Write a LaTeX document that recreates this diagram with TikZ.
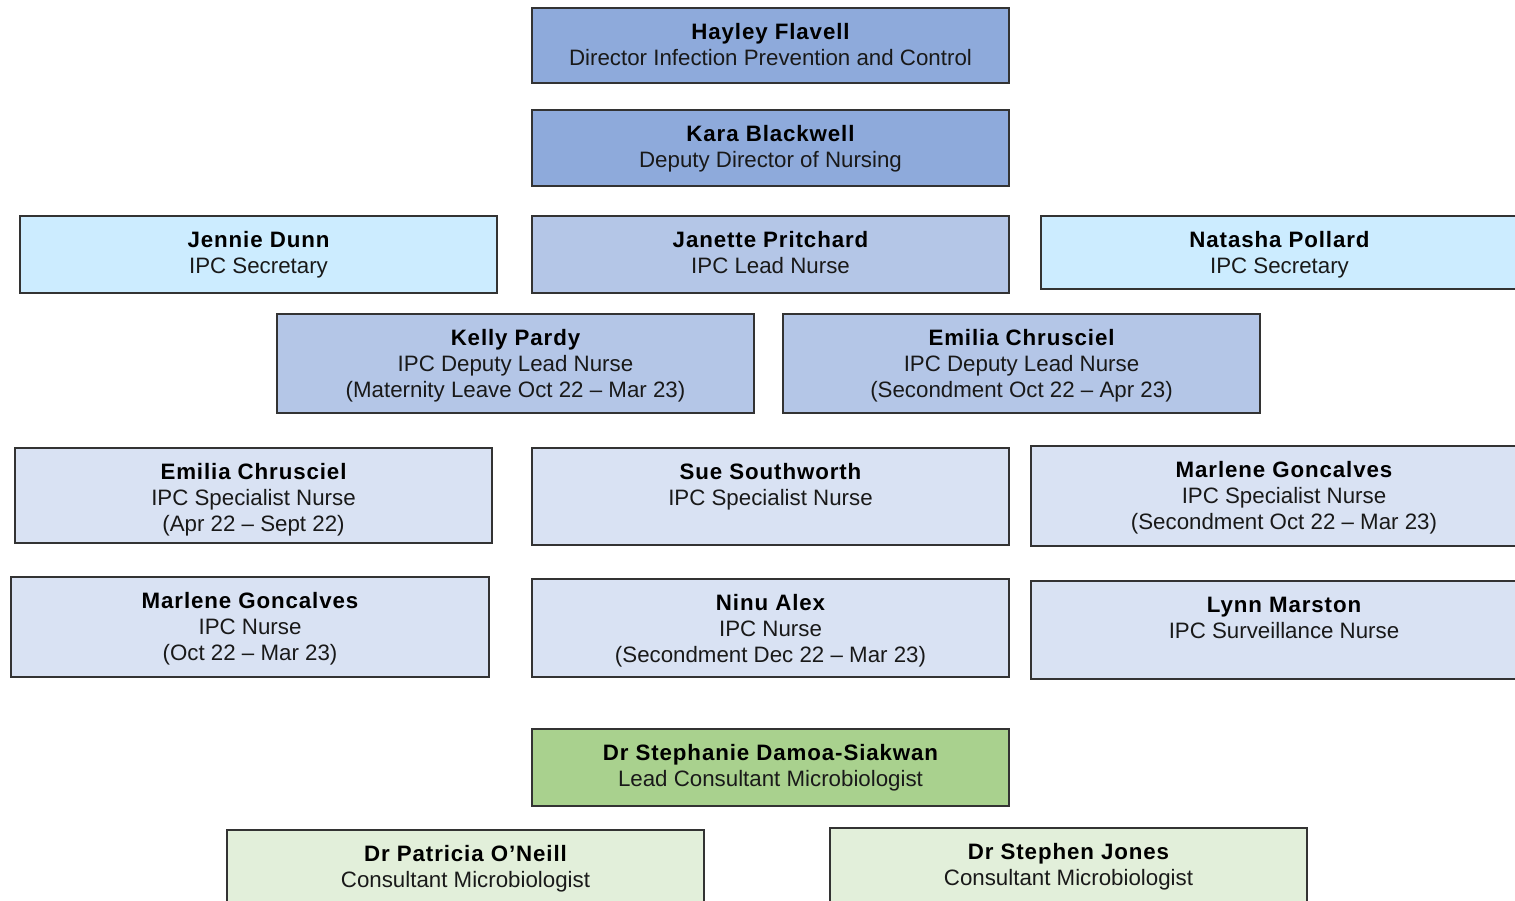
\documentclass[tikz,border=0pt]{standalone}
\usepackage{fontspec}
\setmainfont{Liberation Sans}
\newfontfamily\namefont[LetterSpace=4]{Liberation Sans Bold}
\usetikzlibrary{fit}
\definecolor{cdark}{HTML}{8EAADB}
\definecolor{cmid}{HTML}{B4C6E7}
\definecolor{clight}{HTML}{D9E2F3}
\definecolor{ccyan}{HTML}{CCECFF}
\definecolor{cgreen}{HTML}{A9D18E}
\definecolor{clgreen}{HTML}{E2EFDA}
\definecolor{edge}{HTML}{333333}
\newcommand\orgbox[8]{%
  \node[orgcard, fill=#6, fit={(#2,#3) (#4,#5)}] (#1) {};
  \node[nametext, anchor=base] (#1-n) at ([yshift=-32pt]#1.north) {#7};
  \foreach \l [count=\i] in {#8}
    \node[roletext, anchor=base] (#1-\i) at ([yshift=-32pt-26pt*\i]#1.north) {\l};
}
\begin{document}
\begin{tikzpicture}[x=1pt,y=-1pt,
  orgcard/.style={draw=edge, line width=1.6pt, inner sep=0pt, rectangle},
  nametext/.style={inner sep=0pt, font=\namefont\fontsize{22.3}{26}\selectfont, text=black},
  roletext/.style={inner sep=0pt, font=\fontsize{22.3}{26}\selectfont, text=black!90}]
\useasboundingbox (0,0) rectangle (1515,901);
\clip (0,0) rectangle (1515,901);
\orgbox{hayley}{532}{8}{1009}{83}{cdark}{Hayley Flavell}{Director Infection Prevention and Control}
\orgbox{kara}{532}{110}{1009}{186}{cdark}{Kara Blackwell}{Deputy Director of Nursing}
\orgbox{jennie}{20}{216}{497}{293}{ccyan}{Jennie Dunn}{IPC Secretary}
\orgbox{janette}{532}{216}{1009}{293}{cmid}{Janette Pritchard}{IPC Lead Nurse}
\orgbox{natasha}{1041}{216}{1518}{289}{ccyan}{Natasha Pollard}{IPC Secretary}
\orgbox{kelly}{277}{314}{754}{413}{cmid}{Kelly Pardy}{IPC Deputy Lead Nurse,(Maternity Leave Oct 22 – Mar 23)}
\orgbox{emiliad}{783}{314}{1260}{413}{cmid}{Emilia Chrusciel}{IPC Deputy Lead Nurse,(Secondment Oct 22 – Apr 23)}
\orgbox{emilias}{15}{448}{492}{543}{clight}{Emilia Chrusciel}{IPC Specialist Nurse,(Apr 22 – Sept 22)}
\orgbox{sue}{532}{448}{1009}{545}{clight}{Sue Southworth}{IPC Specialist Nurse}
\orgbox{marlenes}{1031}{446}{1537}{546}{clight}{Marlene Goncalves}{IPC Specialist Nurse,(Secondment Oct 22 – Mar 23)}
\orgbox{marlenen}{11}{577}{489}{677}{clight}{Marlene Goncalves}{IPC Nurse,(Oct 22 – Mar 23)}
\orgbox{ninu}{532}{579}{1009}{677}{clight}{Ninu Alex}{IPC Nurse,(Secondment Dec 22 – Mar 23)}
\orgbox{lynn}{1031}{581}{1537}{679}{clight}{Lynn Marston}{IPC Surveillance Nurse}
\orgbox{stephanie}{532}{729}{1009}{806}{cgreen}{Dr Stephanie Damoa-Siakwan}{Lead Consultant Microbiologist}
\orgbox{patricia}{227}{830}{704}{910}{clgreen}{Dr Patricia O’Neill}{Consultant Microbiologist}
\orgbox{stephen}{830}{828}{1307}{910}{clgreen}{Dr Stephen Jones}{Consultant Microbiologist}
\end{tikzpicture}
\end{document}
